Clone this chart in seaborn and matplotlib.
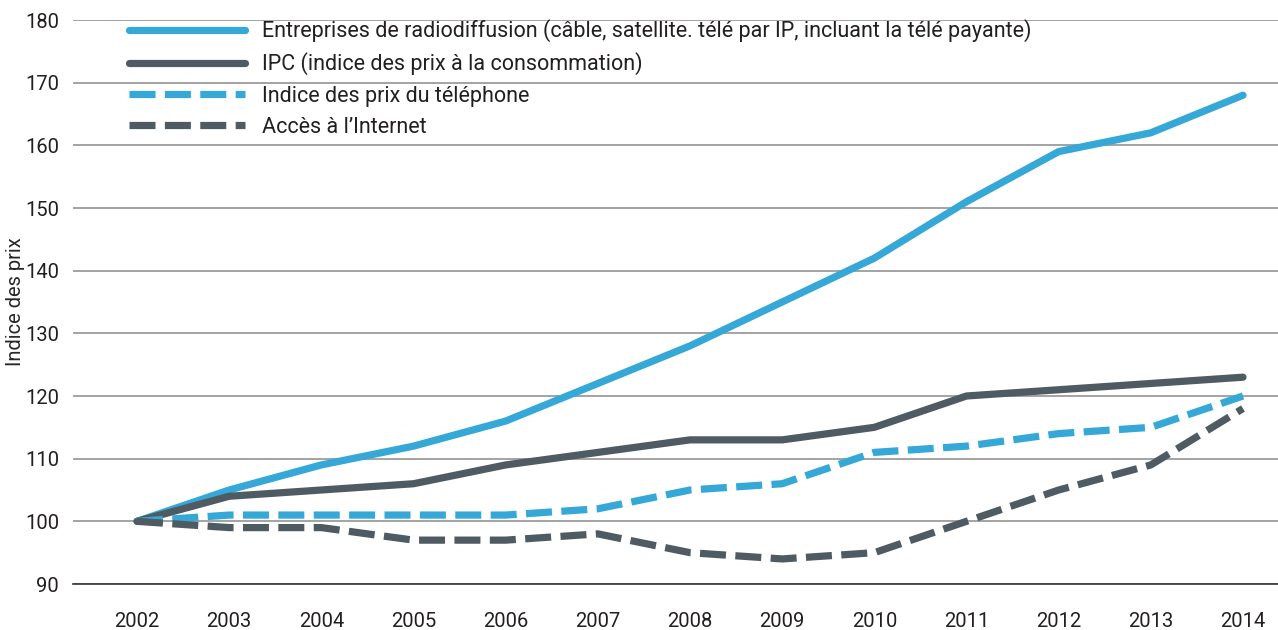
import seaborn as sns
import pandas as pd
from matplotlib import pyplot as plt

years = list(range(2002, 2015))
radiodiffusion = [100, 105, 109, 112, 116, 122, 128, 135, 142, 151, 159, 162, 168]
ipc = [100, 104, 105, 106, 109, 111, 113, 113, 115, 120, 121, 122, 123]
telephone = [100, 101, 101, 101, 101, 102, 105, 106, 111, 112, 114, 115, 120]
internet = [100, 99, 99, 97, 97, 98, 95, 94, 95, 100, 105, 109, 118]

noms = ['Entreprises de radiodiffusion (câble, satellite. télé par IP, incluant la télé payante)',
        'IPC (indice des prix à la consommation)',
        'Indice des prix du téléphone',
        'Accès à l\u2019Internet']

bleu = '#35a8d8'
gris = '#4f5b63'

df = pd.concat([
    pd.DataFrame({'annee': years, 'valeur': serie, 'serie': nom})
    for nom, serie in zip(noms, [radiodiffusion, ipc, telephone, internet])
])

sns.set_style('white')
plt.rcParams['font.family'] = ['Roboto', 'DejaVu Sans']
plt.rcParams['text.color'] = '#231f20'

fig = plt.figure(figsize=(12.78, 6.30), dpi=100)
ax = fig.add_axes([73 / 1278, 46 / 630, 1 - 73 / 1278, 564 / 630])

couleurs = dict(zip(noms, [bleu, gris, bleu, gris]))
tirets = dict(zip(noms, ['', '', (3.6, 1.3), (3.6, 1.3)]))

mapa = sns.lineplot(data=df, x='annee', y='valeur', hue='serie', style='serie',
                    palette=couleurs, dashes=tirets, linewidth=5.2, ax=ax,
                    solid_capstyle='round', dash_capstyle='butt')

ax.set_xlim(2002 - 64 / 92.17, 2014 + 35 / 92.17)
ax.set_ylim(90, 180)
ax.set_yticks(range(90, 181, 10))
ax.set_xticks(years)
ax.yaxis.grid(True, color='#8a8a8a', linewidth=1.1)
ax.set_axisbelow(True)
for s in ['top', 'right', 'left']:
    ax.spines[s].set_visible(False)
ax.spines['bottom'].set_color('#333333')
ax.spines['bottom'].set_linewidth(1.2)
ax.tick_params(axis='x', direction='in', length=10, width=1, color='#555555',
               pad=20, labelsize=14.5, labelcolor='#231f20')
ax.tick_params(axis='y', length=0, pad=10, labelsize=14.5, labelcolor='#231f20')
ax.set_xlabel('')
ax.set_ylabel('Indice des prix', fontsize=14.5)
ax.yaxis.set_label_coords(-0.04, 0.5)

h, l = ax.get_legend_handles_labels()
for hd in h:
    hd.set_linewidth(5.2)
ax.legend(h, l, loc='upper left', bbox_to_anchor=(0.045, 1.005), frameon=False,
          fontsize=15.5, handlelength=5.35, labelspacing=0.47, handletextpad=0.8,
          borderaxespad=0.0, borderpad=0.1)

plt.savefig('out.png', dpi=100)
